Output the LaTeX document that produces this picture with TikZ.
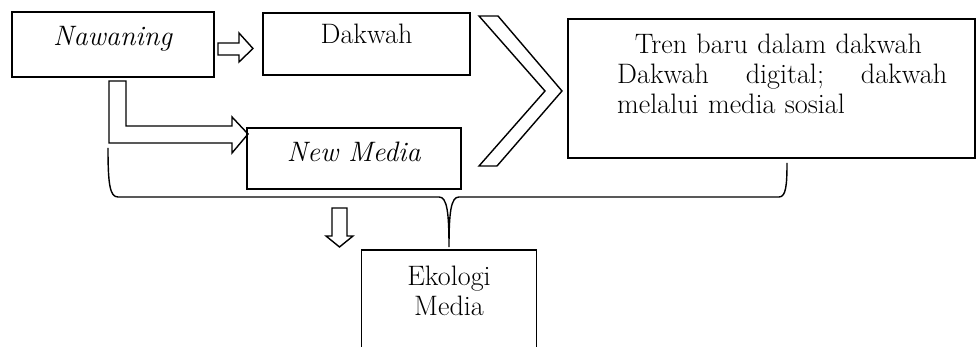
\documentclass[tikz,border=0pt]{standalone}
\usepackage{fontspec}
\usetikzlibrary{calc}

\begin{document}
\begin{tikzpicture}[x=0.02cm, y=-0.02cm, font=\fontsize{16pt}{17pt}\selectfont,
    box/.style={draw, line width=0.8pt, inner sep=0pt, outer sep=0pt},
    blockarrow/.style={draw, line width=0.8pt, line join=miter}]
    \clip (0,0) rectangle (978,347);
    \node [box, minimum width=4.04cm, minimum height=1.3cm, label={[yshift=3.4pt]center:\textit{Nawaning}}] (naw) at (113,44.5) {};
    \node [box, minimum width=4.14cm, minimum height=1.24cm, label={[yshift=5.5pt]center:Dakwah}] (dak) at (366.5,44) {};
    \node [box, minimum width=4.28cm, minimum height=1.22cm, label={[yshift=3.7pt]center:\textit{New Media}}] (nm) at (354,158.5) {};
    \node [box, minimum width=8.14cm, minimum height=2.78cm, label={[anchor=north west, inner sep=0pt, text width=6.6cm, xshift=27.8pt, yshift=-8.5pt]north west:\hspace*{10pt}Tren baru dalam dakwah\\ Dakwah\hfill digital;\hfill dakwah\\ melalui media sosial}] (tren) at (771.5,88.5) {};
    \node [box, minimum width=3.5cm, minimum height=3cm, label={[anchor=north, inner sep=0pt, yshift=-9pt, align=center]north:Ekologi\\Media}] (eko) at (449,325) {};
    % Nawaning to Dakwah
    \draw[blockarrow] ([shift={(4,-1.5)}]naw.east) -- ++(21,0) -- ++(0,-10) -- ++(14,15.5) -- ++(-14,13.5) -- ++(0,-7) -- ++(-21,0) -- cycle;
    % Nawaning down to New Media
    \draw[blockarrow] ([shift={(-4,4)}]naw.south) -- ++(0,62) -- ++(123,0) -- ++(0,10) -- ([shift={(1,6)}]nm.north west) -- ++(-16,-17) -- ++(0,9) -- ++(-106,0) -- ++(0,-45) -- cycle;
    % Big chevron
    \draw[blockarrow] (479,16) -- (498,16) -- (562,91) -- (497,166) -- (479,166) -- (545,91) -- cycle;
    % Brace down to Ekologi Media
    \coordinate (cusp) at ([yshift=1.7pt]eko.north);
    \draw[line width=0.8pt] (108,148) .. controls (108,185) and (110,197) .. (118,197) -- (439,197) .. controls (447,197) and (449,212) .. (cusp) .. controls (449,212) and (451,197) .. (459,197) -- (779,197) .. controls (786,197) and (787,185) .. (787,163);
    % Small down arrow
    \coordinate (dn) at (332,208);
    \draw[blockarrow] (dn) -- ++(0,28) -- ++(-6,0) -- ++(13.5,11) -- ++(13.5,-11) -- ++(-6,0) -- ++(0,-28) -- cycle;
\end{tikzpicture}
\end{document}
